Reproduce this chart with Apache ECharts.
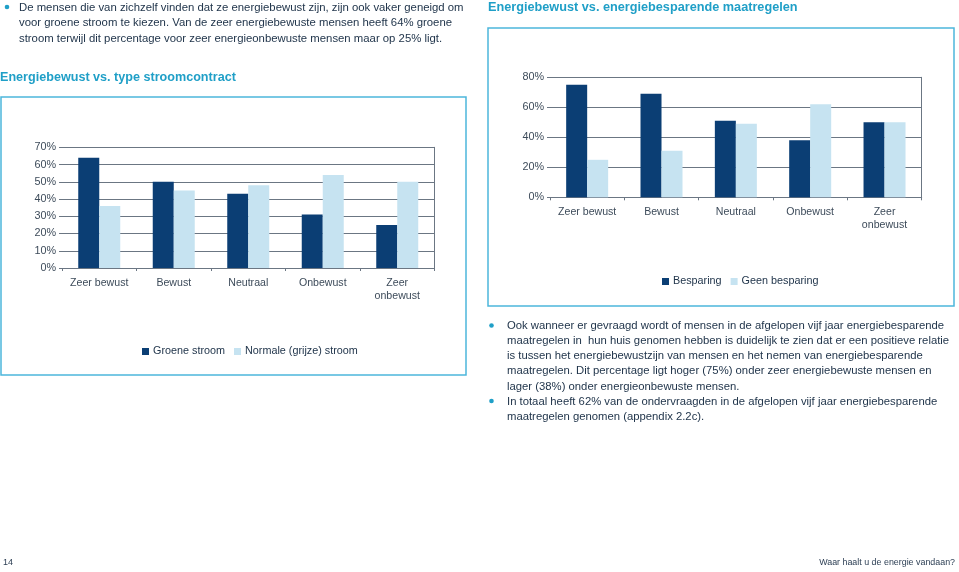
<!DOCTYPE html>
<html><head><meta charset="utf-8">
<script src="https://cdn.jsdelivr.net/npm/echarts@6/dist/echarts.min.js"></script>
<style>html,body{margin:0;padding:0;background:#fff}#c{width:959px;height:572px}</style>
</head><body><div id="c"></div>
<script>
// ---- data ----
var categories = ['Zeer bewust', 'Bewust', 'Neutraal', 'Onbewust', 'Zeer\nonbewust'];
var groeneStroom = [64, 50, 43, 31, 25];
var normaleStroom = [36, 45, 48, 54, 50];
var besparing = [75, 69, 51, 38, 50];
var geenBesparing = [25, 31, 49, 62, 50];
var leftTicks = {min: 0, max: 70, interval: 10};
var rightTicks = {min: 0, max: 80, interval: 20};
var leftTitle = 'Energiebewust vs. type stroomcontract';
var rightTitle = 'Energiebewust vs. energiebesparende maatregelen';
var topText = ['De mensen die van zichzelf vinden dat ze energiebewust zijn, zijn ook vaker geneigd om',
  'voor groene stroom te kiezen. Van de zeer energiebewuste mensen heeft 64% groene',
  'stroom terwijl dit percentage voor zeer energieonbewuste mensen maar op 25% ligt.'];
var bullet1 = ['Ook wanneer er gevraagd wordt of mensen in de afgelopen vijf jaar energiebesparende',
  'maatregelen in  hun huis genomen hebben is duidelijk te zien dat er een positieve relatie',
  'is tussen het energiebewustzijn van mensen en het nemen van energiebesparende',
  'maatregelen. Dit percentage ligt hoger (75%) onder zeer energiebewuste mensen en',
  'lager (38%) onder energieonbewuste mensen.'];
var bullet2 = ['In totaal heeft 62% van de ondervraagden in de afgelopen vijf jaar energiebesparende',
  'maatregelen genomen (appendix 2.2c).'];

// ---- style ----
var FONT = '"Liberation Sans", Arial, Helvetica, sans-serif';
var DARK = '#0b3e74', LIGHT = '#c6e3f1';
var TEXT = '#22364c', AXT = '#3d4b5a', GRID = '#6b7683';
var CYAN = '#1f9fc7', BORDER = '#4cb6db';

var chart = echarts.init(document.getElementById('c'));

function xAx(gi) {
  return {type: 'category', gridIndex: gi, data: categories,
    axisLine: {lineStyle: {color: GRID, width: 1}},
    axisTick: {show: true, length: 3, lineStyle: {color: GRID}},
    axisLabel: {interval: 0, color: AXT, fontFamily: FONT, fontSize: 10.6, margin: 9, lineHeight: 12.5}};
}
function yAx(gi, t) {
  return {type: 'value', gridIndex: gi, min: t.min, max: t.max, interval: t.interval,
    axisLine: {show: false},
    axisTick: {show: true, length: 3, lineStyle: {color: GRID}},
    splitLine: {lineStyle: {color: GRID, width: 1}},
    axisLabel: {color: AXT, fontFamily: FONT, fontSize: 10.8, margin: 6, formatter: '{value}%'}};
}
function yRight(gi, t) {
  return {type: 'value', gridIndex: gi, position: 'right', min: t.min, max: t.max, interval: t.interval,
    axisLine: {show: true, lineStyle: {color: GRID, width: 1}},
    axisTick: {show: false}, axisLabel: {show: false}, splitLine: {show: false}};
}

var graphics = [];
function txt(x, y, s, opt) {
  opt = opt || {};
  graphics.push({type: 'text', x: x, y: y, silent: true,
    style: {text: s, fill: opt.fill || TEXT, font: (opt.weight || 'normal') + ' ' + (opt.size || 12) + 'px ' + FONT,
      align: opt.align || 'left', verticalAlign: 'middle'}});
}
function dot(x, y) {
  graphics.push({type: 'circle', shape: {cx: x, cy: y, r: 2.3}, style: {fill: CYAN}, silent: true});
}
// boxes
graphics.push({type: 'rect', shape: {x: 1, y: 97, width: 465, height: 278}, style: {fill: 'none', stroke: BORDER, lineWidth: 1.5}, silent: true});
graphics.push({type: 'rect', shape: {x: 488, y: 28, width: 466, height: 278}, style: {fill: 'none', stroke: BORDER, lineWidth: 1.5}, silent: true});
// titles
txt(0, 77.5, leftTitle, {fill: CYAN, weight: 'bold', size: 12.6});
txt(488, 7.5, rightTitle, {fill: CYAN, weight: 'bold', size: 12.7});
// top-left paragraph
dot(7, 7);
topText.forEach(function (l, i) { txt(19, 7.5 + i * 15.5, l, {size: 11.35}); });
// right paragraphs
dot(491.5, 325.5);
bullet1.forEach(function (l, i) { txt(507, 326 + i * 15.1, l, {size: 11.3}); });
dot(491.5, 401);
bullet2.forEach(function (l, i) { txt(507, 401.5 + i * 15.1, l, {size: 11.3}); });
// footer
txt(3, 563, '14', {size: 9, fill: '#2f4156'});
txt(955, 563, 'Waar haalt u de energie vandaan?', {size: 8.9, fill: '#2f4156', align: 'right'});

function bar(name, data, color, xi, yi) {
  return {name: name, type: 'bar', data: data, xAxisIndex: xi, yAxisIndex: yi,
    barWidth: 21, barGap: '0%', itemStyle: {color: color}, silent: true};
}

chart.setOption({
  animation: false,
  grid: [
    {left: 62, right: 524.5, top: 147.3, bottom: 304},
    {left: 550, right: 37.3, top: 77.3, bottom: 374.7}
  ],
  xAxis: [xAx(0), xAx(1)],
  yAxis: [yAx(0, leftTicks), yAx(1, rightTicks), yRight(0, leftTicks), yRight(1, rightTicks)],
  legend: [
    {data: ['Groene stroom', 'Normale (grijze) stroom'], left: 137, top: 341, itemWidth: 7, itemHeight: 7,
      itemGap: 9, icon: 'rect', textStyle: {color: TEXT, fontFamily: FONT, fontSize: 10.8, padding: [0, 0, 0, -1]}},
    {data: ['Besparing', 'Geen besparing'], left: 657, top: 271, itemWidth: 7, itemHeight: 7,
      itemGap: 9, icon: 'rect', textStyle: {color: TEXT, fontFamily: FONT, fontSize: 10.8, padding: [0, 0, 0, -1]}}
  ],
  series: [
    bar('Groene stroom', groeneStroom, DARK, 0, 0),
    bar('Normale (grijze) stroom', normaleStroom, LIGHT, 0, 0),
    bar('Besparing', besparing, DARK, 1, 1),
    bar('Geen besparing', geenBesparing, LIGHT, 1, 1)
  ],
  graphic: graphics
});
</script></body></html>
